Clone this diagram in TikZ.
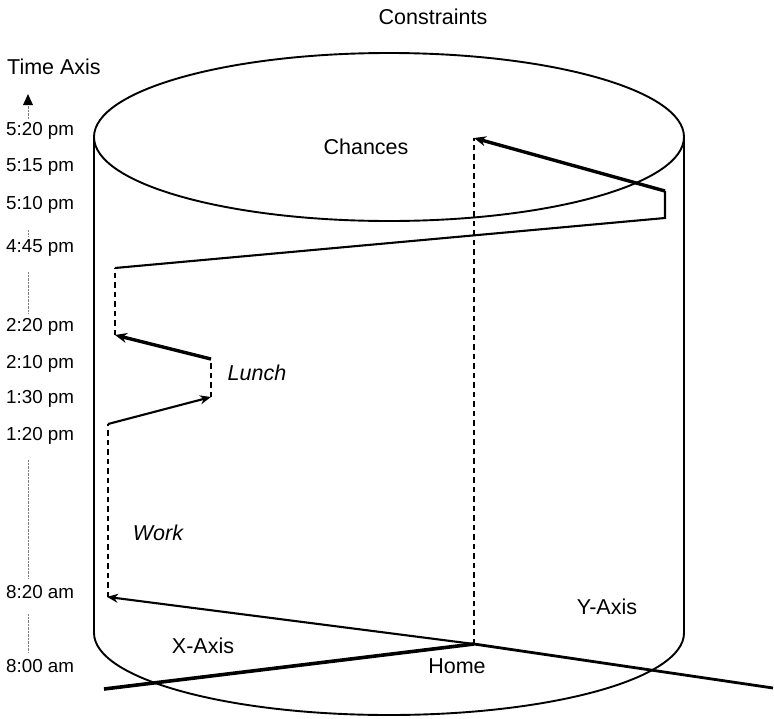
\documentclass[tikz,border=0pt]{standalone}
\usepackage{fontspec}
\setmainfont{Liberation Sans}
\usetikzlibrary{arrows.meta}
\begin{document}
\begin{tikzpicture}[x=1pt,y=-1pt,
  lbl/.style={font=\fontsize{21.5}{24}\selectfont, inner sep=0pt},
  tlbl/.style={font=\fontsize{18.8}{21}\selectfont, inner sep=0pt, anchor=west},
  ilbl/.style={lbl, font=\fontsize{21.5}{24}\selectfont\itshape},
  cyl/.style={line width=1.9pt},
  route/.style={line width=2.1pt},
  routedash/.style={line width=2.4pt, dash pattern=on 5.5pt off 4pt},
  boldarrow/.style={line width=3.4pt, -{Stealth[length=12pt,width=10pt]}},
  thinarrow/.style={line width=2.1pt, -{Stealth[length=11pt,width=9pt]}},
  tick/.style={gray, line width=1pt, dash pattern=on 0.8pt off 0.6pt},
]
\useasboundingbox (0,0) rectangle (774,718);

% cylinder: top ellipse, sides and front half of the base
\draw[cyl] (389,137) ellipse [x radius=295, y radius=84];
\draw[cyl] (94,137) -- (94,633) arc[start angle=180, end angle=0, x radius=295, y radius=82] -- (684,137);

% ground axes meeting at home
\coordinate (home) at (474,644);
\coordinate (xend) at (104,689);
\coordinate (yend) at (773,688);
\draw[line width=3.6pt] (xend) -- (home);
\draw[line width=2.8pt] (home) -- (yend);

% route points
\coordinate (w0) at (108,597);
\coordinate (w1) at (108,424);
\coordinate (l0) at (211,397);
\coordinate (l1) at (211,359);
\coordinate (a0) at (115,335);
\coordinate (a1) at (115,268);
\coordinate (e0) at (665,218);
\coordinate (e1) at (665,191);
\coordinate (c0) at (474,138);

\draw[thinarrow, shorten >=-1pt] (home) -- (w0);
\draw[routedash] (w0) -- (w1);
\draw[thinarrow] (w1) -- (l0);
\draw[routedash] (l0) -- (l1);
\draw[boldarrow] (l1) -- (a0);
\draw[routedash] (a0) -- (a1);
\draw[route] (a1) -- (e0) -- (e1);
\draw[boldarrow] (e1) -- (c0);
\draw[routedash] (home) -- (c0);

% time axis
\coordinate (ta0) at (28,119);
\coordinate (ta1) at (28,94);
\draw[tick] (ta0) -- (28,104);
\fill (ta1) -- (23,105) -- (33,105) -- cycle;
\draw[tick] (28,230) -- (28,237);
\draw[tick] (28,272) -- (28,313);
\draw[tick] (28,460) -- (28,578);
\draw[tick] (28,614) -- (28,652);

\node[lbl] (constraints) at (433,17) {Constraints};
\node[lbl, anchor=west] (timeaxis) at (7,67) {Time Axis};
\node[tlbl] (t520) at (6,131) {5:20 pm};
\node[tlbl] (t515) at (6,167) {5:15 pm};
\node[tlbl] (t510) at (6,205) {5:10 pm};
\node[tlbl] (t445) at (6,248) {4:45 pm};
\node[tlbl] (t220) at (6,327) {2:20 pm};
\node[tlbl] (t210) at (6,364) {2:10 pm};
\node[tlbl] (t130) at (6,399) {1:30 pm};
\node[tlbl] (t120) at (6,436) {1:20 pm};
\node[tlbl] (t820) at (6,592) {8:20 am};
\node[tlbl] (t800) at (6,666) {8:00 am};

\node[lbl] (chances) at (366,147) {Chances};
\node[ilbl] (lunch) at (257,373) {Lunch};
\node[ilbl] (work) at (158,533) {Work};
\node[lbl] (xaxis) at (203,646) {X-Axis};
\node[lbl] (yaxis) at (607,607) {Y-Axis};
\node[lbl] (homelbl) at (457,666) {Home};
\end{tikzpicture}
\end{document}
